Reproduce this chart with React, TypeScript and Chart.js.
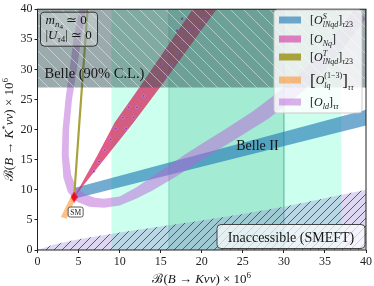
import React, { useEffect, useRef } from 'react';
import { Chart, registerables } from 'chart.js';
Chart.register(...registerables);

// ---------- data ----------
const AXIS_MIN = 0;
const AXIS_MAX = 40;
const TICK_STEP = 5;

const SM_X = [4.46];
const SM_Y = [8.8];

const BELLE_K_STAR_LIMIT = 27; // Belle 90% C.L. on B->K*nunu
const BELLE2_WIDE = [9, 37];
const BELLE2_NARROW = [16, 30];

const INACC_X = [0, 2, 5, 10, 15, 20, 25, 30, 35, 40];
const INACC_Y = [0, 0.9, 1.8, 2.9, 3.9, 4.9, 6.0, 7.2, 8.6, 10.0];

// [O^S_lNqd]_tau23
const BLUE_X = [4.46, 40];
const BLUE_LO = [8.5, 20.7];
const BLUE_HI = [10.3, 23.3];

// [O_Nq]
const PINK_LEFT_X = [4.46, 7.2, 9.4, 12.4, 18.9];
const PINK_LEFT_Y = [8.8, 15.5, 21.2, 27, 40];
const PINK_RIGHT_X = [21.8, 14.9, 11.7, 4.46];
const PINK_RIGHT_Y = [40, 27, 21.2, 8.8];
const DOTS_X = [6.85, 7.5, 8.2, 8.9, 9.5, 10.8, 10.4, 11.7, 11.1, 12.1, 12.9, 14.2, 15.6, 15.0, 16.3, 15.7, 17.0, 17.6, 17.0, 18.4, 19.7, 17.6, 20.3];
const DOTS_Y = [13.1, 14.7, 16.6, 18.4, 20.2, 20.2, 22.0, 22.0, 23.7, 23.7, 25.6, 29.1, 29.1, 30.9, 30.9, 32.7, 32.7, 34.6, 36.4, 36.4, 36.4, 38.4, 38.4];

// [O^T_lNqd]_tau23
const OLIVE_X = [4.46, 5.1, 6.1];
const OLIVE_Y = [8.8, 21.2, 40];

// [O^(1-3)_lq]_tautau
const ORANGE_X = [2.85, 3.55, 4.75, 4.2];
const ORANGE_Y = [5.5, 5.2, 8.9, 9.3];

// [O_ld]_tautau
const LAV_OUTER_X = [5.1, 4.4, 3.9, 3.4, 3.05, 2.95, 3.15, 3.7, 4.8, 6.3, 8.1, 10, 12, 14, 17, 20.2, 24, 28.2, 32, 35, 37.5, 40];
const LAV_OUTER_Y = [40, 35, 30, 25, 20, 15.8, 12, 9.6, 8.0, 7.2, 7.0, 7.4, 8.5, 9.9, 12.3, 15.1, 18.3, 21.9, 26.0, 30.0, 34.0, 38.5];
const LAV_INNER_X = [5.9, 5.3, 4.8, 4.2, 3.85, 3.8, 4.1, 4.7, 5.8, 7.0, 8.1, 10, 12, 14, 16, 18, 20.2, 23, 26.2, 29, 32, 35, 38.6];
const LAV_INNER_Y = [40, 35, 30, 25, 20, 15.8, 12.5, 10.4, 9.3, 8.7, 8.5, 8.9, 10.4, 12.2, 14.0, 15.9, 17.8, 20.2, 23.0, 25.9, 29.4, 33.6, 40];

const C_BLUE = 'rgba(31,119,180,0.62)';
const C_PINK = 'rgba(214,38,92,0.75)';
const C_PINK_LEG = 'rgba(214,80,170,0.72)';
const C_OLIVE = '#a9a23c';
const C_ORANGE = 'rgba(255,140,30,0.55)';
const C_LAV = 'rgba(185,100,215,0.5)';

// ---------- helpers ----------
const FAM = "'Liberation Serif','DejaVu Serif',serif";
type Run = { t: string; size: number; it?: boolean; dy?: number; hold?: boolean };
const fontOf = (r: Run) => `${r.it ? 'italic ' : ''}${r.size}px ${FAM}`;

function layoutRuns(ctx: CanvasRenderingContext2D, runs: Run[], draw: boolean, x0: number, y: number) {
  let cx = x0;
  let holdX: number | null = null;
  let holdW = 0;
  for (const r of runs) {
    ctx.font = fontOf(r);
    const rw = ctx.measureText(r.t).width;
    const sx = holdX !== null ? holdX : cx;
    if (draw) ctx.fillText(r.t, sx, y + (r.dy || 0));
    if (r.hold) {
      holdX = sx;
      holdW = rw;
    } else if (holdX !== null) {
      cx = holdX + Math.max(holdW, rw);
      holdX = null;
    } else cx += rw;
  }
  return cx - x0;
}
function drawRuns(ctx: CanvasRenderingContext2D, runs: Run[], x: number, y: number, align: 'left' | 'center' = 'left') {
  ctx.textAlign = 'left';
  ctx.textBaseline = 'alphabetic';
  const w = layoutRuns(ctx, runs, false, 0, 0);
  const sx = align === 'center' ? x - w / 2 : x;
  layoutRuns(ctx, runs, true, sx, y);
}

const zip = (xs: number[], ys: number[]) => xs.map((x, i) => ({ x, y: ys[i] }));

function makeHatch(ctx: CanvasRenderingContext2D, size: number, bg: string, line: string, lw: number, dir: '/' | '\\') {
  const c = document.createElement('canvas');
  c.width = size;
  c.height = size;
  const g = c.getContext('2d')!;
  g.fillStyle = bg;
  g.fillRect(0, 0, size, size);
  g.strokeStyle = line;
  g.lineWidth = lw;
  g.beginPath();
  if (dir === '/') {
    g.moveTo(-1, size + 1); g.lineTo(size + 1, -1);
    g.moveTo(-2, 2); g.lineTo(2, -2);
    g.moveTo(size - 2, size + 2); g.lineTo(size + 2, size - 2);
  } else {
    g.moveTo(-1, -1); g.lineTo(size + 1, size + 1);
    g.moveTo(size - 2, -2); g.lineTo(size + 2, 2);
    g.moveTo(-2, size - 2); g.lineTo(2, size + 2);
  }
  g.stroke();
  return ctx.createPattern(c, 'repeat')!;
}

function diamond() {
  const c = document.createElement('canvas');
  c.width = 7;
  c.height = 11;
  const g = c.getContext('2d')!;
  g.fillStyle = '#e8101a';
  g.beginPath();
  g.moveTo(3.5, 0); g.lineTo(7, 5.5); g.lineTo(3.5, 11); g.lineTo(0, 5.5);
  g.closePath();
  g.fill();
  return c;
}

function box(ctx: CanvasRenderingContext2D, x: number, y: number, w: number, h: number, r: number, fill: string, stroke: string, lw = 1) {
  ctx.beginPath();
  (ctx as any).roundRect(x, y, w, h, r);
  ctx.fillStyle = fill;
  ctx.fill();
  ctx.lineWidth = lw;
  ctx.strokeStyle = stroke;
  ctx.stroke();
}

const legendItems: { color: string; runs: Run[] }[] = [
  { color: C_BLUE, runs: [
    { t: '[', size: 12 }, { t: 'O', size: 12, it: true }, { t: 'S', size: 8, it: true, dy: -5, hold: true },
    { t: 'lNqd', size: 8, it: true, dy: 3 }, { t: ']', size: 12 }, { t: 'τ', size: 8, it: true, dy: 3 }, { t: '23', size: 8, dy: 3 } ] },
  { color: C_PINK_LEG, runs: [
    { t: '[', size: 12 }, { t: 'O', size: 12, it: true }, { t: 'Nq', size: 8, it: true, dy: 3 }, { t: ']', size: 12 } ] },
  { color: C_OLIVE, runs: [
    { t: '[', size: 12 }, { t: 'O', size: 12, it: true }, { t: 'T', size: 8, it: true, dy: -5, hold: true },
    { t: 'lNqd', size: 8, it: true, dy: 3 }, { t: ']', size: 12 }, { t: 'τ', size: 8, it: true, dy: 3 }, { t: '23', size: 8, dy: 3 } ] },
  { color: C_ORANGE, runs: [
    { t: '[', size: 17, dy: 2 }, { t: 'O', size: 12, it: true }, { t: '(1−3)', size: 8, dy: -6, hold: true },
    { t: 'lq', size: 8, it: true, dy: 4 }, { t: ']', size: 17, dy: 2 }, { t: 'ττ', size: 8, it: true, dy: 6 } ] },
  { color: C_LAV, runs: [
    { t: '[', size: 12 }, { t: 'O', size: 12, it: true }, { t: 'ld', size: 8, it: true, dy: 3 }, { t: ']', size: 12 },
    { t: 'ττ', size: 8, it: true, dy: 3 } ] },
];
const LEGEND_Y = [20, 39, 57, 80, 102];

const overlayPlugin = {
  id: 'overlay',
  afterDatasetsDraw(chart: any) {
    const ctx: CanvasRenderingContext2D = chart.ctx;
    const a = chart.chartArea;
    const xs = chart.scales.x;
    const ys = chart.scales.y;
    ctx.save();
    // frame
    ctx.strokeStyle = '#222';
    ctx.lineWidth = 1;
    ctx.strokeRect(a.left, a.top, a.right - a.left, a.bottom - a.top);

    ctx.fillStyle = '#161616';
    drawRuns(ctx, [{ t: 'Belle (90% C.L.)', size: 14.5 }], a.left + 7, ys.getPixelForValue(BELLE_K_STAR_LIMIT) - 9);
    drawRuns(ctx, [{ t: 'Belle II', size: 14 }], xs.getPixelForValue(24.2), ys.getPixelForValue(16.6));

    // annotation top-left
    box(ctx, a.left + 3, a.top + 3, 57, 34, 4, 'rgba(255,255,255,0.28)', '#333');
    ctx.fillStyle = '#161616';
    drawRuns(ctx, [
      { t: 'm', size: 13, it: true }, { t: 'n', size: 9, it: true, dy: 3 }, { t: '4', size: 7, dy: 5 }, { t: ' ≃ 0', size: 13 },
    ], a.left + 8, a.top + 15);
    drawRuns(ctx, [
      { t: '|', size: 13 }, { t: 'U', size: 13, it: true }, { t: 'τ', size: 9, it: true, dy: 3 }, { t: '4', size: 9, dy: 3 }, { t: '| ≃ 0', size: 13 },
    ], a.left + 8, a.top + 30);

    // legend
    box(ctx, 274, 10, 88, 103, 3, 'rgba(255,255,255,0.82)', 'rgba(200,200,200,0.9)');
    legendItems.forEach((it, i) => {
      const cy = LEGEND_Y[i];
      ctx.fillStyle = it.color;
      ctx.fillRect(279, cy - 3.5, 22, 7);
      ctx.fillStyle = '#161616';
      drawRuns(ctx, it.runs, 310, cy + 4);
    });

    // Inaccessible label
    box(ctx, 217, 224.5, 148, 24, 4, 'rgba(255,255,255,0.72)', '#444');
    ctx.fillStyle = '#161616';
    drawRuns(ctx, [{ t: 'Inaccessible (SMEFT)', size: 14 }], 291, 241.5, 'center');

    // SM label
    const smx = xs.getPixelForValue(SM_X[0]);
    const smy = ys.getPixelForValue(SM_Y[0]);
    box(ctx, smx - 6, smy + 10, 15, 10, 2, 'rgba(255,255,255,0.9)', '#333', 0.8);
    ctx.fillStyle = '#161616';
    drawRuns(ctx, [{ t: 'SM', size: 7.5 }], smx + 1.5, smy + 17.7, 'center');

    // axis titles
    drawRuns(ctx, [
      { t: 'ℬ', size: 13 }, { t: '(', size: 13 }, { t: 'B', size: 13, it: true }, { t: ' → ', size: 13 },
      { t: 'Kνν', size: 13, it: true }, { t: ') × 10', size: 13 }, { t: '6', size: 9, dy: -5 },
    ], (a.left + a.right) / 2, 283, 'center');
    ctx.save();
    ctx.translate(13, (a.top + a.bottom) / 2);
    ctx.rotate(-Math.PI / 2);
    drawRuns(ctx, [
      { t: 'ℬ', size: 13 }, { t: '(', size: 13 }, { t: 'B', size: 13, it: true }, { t: ' → ', size: 13 },
      { t: 'K', size: 13, it: true }, { t: '*', size: 9, dy: -5 }, { t: 'νν', size: 13, it: true }, { t: ') × 10', size: 13 }, { t: '6', size: 9, dy: -5 },
    ], 0, 0, 'center');
    ctx.restore();
    ctx.restore();
  },
};

export default function App() {
  const ref = useRef<HTMLCanvasElement>(null);
  useEffect(() => {
    const canvas = ref.current!;
    const ctx = canvas.getContext('2d')!;
    Chart.defaults.font.family = FAM;
    const belleHatch = makeHatch(ctx, 13, 'rgba(55,85,90,0.5)', 'rgba(255,255,255,0.45)', 1, '\\');
    const inaccHatch = makeHatch(ctx, 8, 'rgba(150,130,215,0.32)', '#46369a', 0.85, '/');

    const poly = (pts: { x: number; y: number }[], bg: any, order: number, extra: any = {}) => ({
      data: pts,
      backgroundColor: bg,
      borderColor: 'rgba(0,0,0,0)',
      borderWidth: 1,
      fill: 'shape',
      pointRadius: 0,
      tension: 0,
      order,
      ...extra,
    });

    const rect = (x0: number, x1: number, y0: number, y1: number) =>
      zip([x0, x0, x1, x1], [y0, y1, y1, y0]);

    const datasets: any[] = [
      poly(rect(BELLE2_WIDE[0], BELLE2_WIDE[1], AXIS_MIN, AXIS_MAX), 'rgba(127,255,212,0.4)', 100),
      poly(rect(BELLE2_NARROW[0], BELLE2_NARROW[1], AXIS_MIN, AXIS_MAX), 'rgba(102,205,170,0.4)', 99,
        { borderColor: 'rgba(90,190,160,0.5)', borderWidth: 1 }),
      poly(zip(INACC_X, INACC_Y).concat([{ x: AXIS_MAX, y: AXIS_MIN }]), inaccHatch, 90),
      poly(zip(BLUE_X, BLUE_LO).concat(zip(BLUE_X, BLUE_HI).reverse()), C_BLUE, 70),
      poly(zip(LAV_OUTER_X, LAV_OUTER_Y).concat(zip(LAV_INNER_X, LAV_INNER_Y).reverse()), C_LAV, 65),
      poly(zip(PINK_LEFT_X, PINK_LEFT_Y).concat(zip(PINK_RIGHT_X, PINK_RIGHT_Y)), C_PINK, 60),
      poly(zip(ORANGE_X, ORANGE_Y), C_ORANGE, 55),
      {
        data: zip(OLIVE_X, OLIVE_Y), borderColor: C_OLIVE, borderWidth: 2.2, fill: false, pointRadius: 0, order: 50,
      },
      {
        data: zip(DOTS_X, DOTS_Y), showLine: false, pointRadius: 1.3, pointBorderWidth: 0.6,
        pointBackgroundColor: '#9a2fc0', pointBorderColor: 'rgba(230,170,240,0.8)', order: 45,
      },
      poly(rect(AXIS_MIN, AXIS_MAX, BELLE_K_STAR_LIMIT, AXIS_MAX), belleHatch, 40,
        { borderColor: 'rgba(70,90,95,0.9)', borderWidth: 1 }),
      {
        data: zip(SM_X, SM_Y), showLine: false, pointStyle: diamond(), pointRadius: 5, order: 5,
      },
    ];

    const tickFont = { family: FAM, size: 12 };
    const chart = new Chart(ctx, {
      type: 'line',
      data: { datasets },
      options: {
        animation: false,
        responsive: false,
        maintainAspectRatio: false,
        events: [],
        layout: { padding: { top: 5, right: 6.5, left: 0, bottom: 0 } },
        plugins: { legend: { display: false }, tooltip: { enabled: false } },
        scales: {
          x: {
            type: 'linear', min: AXIS_MIN, max: AXIS_MAX,
            ticks: { stepSize: TICK_STEP, font: tickFont, color: '#222', padding: 2, maxRotation: 0, autoSkip: false },
            grid: { drawOnChartArea: false, tickLength: 3, color: '#222' },
            border: { display: false },
            afterFit: (s: any) => { s.height = 36; },
          },
          y: {
            type: 'linear', min: AXIS_MIN, max: AXIS_MAX,
            ticks: { stepSize: TICK_STEP, font: tickFont, color: '#222', padding: 2, autoSkip: false },
            grid: { drawOnChartArea: false, tickLength: 3, color: '#222' },
            border: { display: false },
            afterFit: (s: any) => { s.width = 37.5; },
          },
        },
      } as any,
      plugins: [overlayPlugin],
    });
    return () => chart.destroy();
  }, []);
  return (
    <div style={{ position: 'fixed', left: 0, top: 0, width: 374, height: 286 }}>
      <canvas ref={ref} width={374} height={286} style={{ width: 374, height: 286, display: 'block' }} />
    </div>
  );
}
